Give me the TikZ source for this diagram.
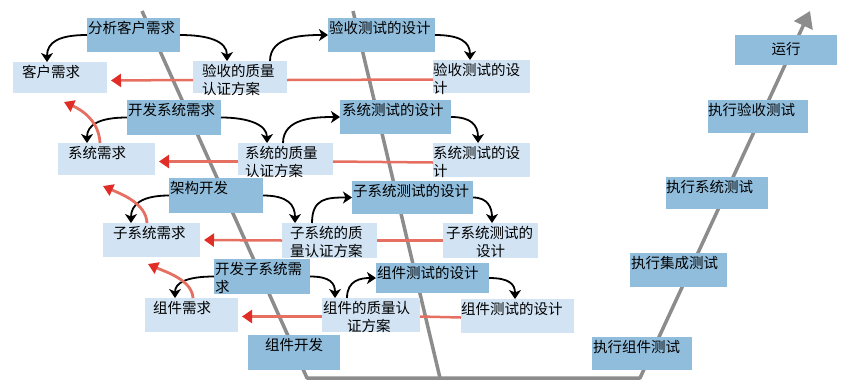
\documentclass[tikz,border=0pt]{standalone}
\usepackage{fontspec}
\setmainfont{Noto Sans CJK SC}
\usetikzlibrary{arrows.meta,calc}
\pgfdeclarelayer{bg}
\pgfsetlayers{bg,main}
\definecolor{dkblue}{RGB}{145,189,220}
\definecolor{ltblue}{RGB}{210,228,244}
\definecolor{vgray}{RGB}{140,140,140}
\definecolor{redln}{RGB}{229,112,98}
\definecolor{redtip}{RGB}{224,45,40}
\newcommand\bt[4]{\parbox[t][#2pt][t]{#1pt}{\fontsize{14.5}{18.5}\selectfont\raggedright\leftskip=#3pt\relax\rule{0pt}{15pt}#4}}
\tikzset{
  box/.style={anchor=north west, inner sep=0pt, outer sep=0pt},
  dk/.style={box, fill=dkblue},
  lt/.style={box, fill=ltblue},
  blk/.style={line width=1.8pt, black, -{Stealth[length=9pt,width=12pt,inset=2.5pt]}},
  rl/.style={line width=2.5pt, redln},
  ra/.style={rl, -{Triangle[length=10pt,width=13pt,color=redtip]}, shorten >=4pt},
  rc/.style={line width=2.8pt, redln, -{Triangle[length=10pt,width=12pt,color=redtip]}},
  vline/.style={line width=3.5pt, vgray, line join=round},
}
\begin{document}
\begin{tikzpicture}[x=1pt,y=-1pt]
\useasboundingbox (0,0) rectangle (845,381);
% gray V lines
\begin{pgfonlayer}{bg}
\coordinate (g1) at (142,11);
\coordinate (g2) at (307,378);
\coordinate (g3) at (640,378);
\coordinate (g4) at (810,11);
\coordinate (h1) at (353,11);
\coordinate (h2) at (440,378);
\draw[vline, -{Triangle[length=16pt,width=20pt]}] (g1) -- (g2) -- (g3) -- (g4);
\draw[vline] (h1) -- (h2);
\end{pgfonlayer}
% dark boxes (left)
\node[dk] (A1) at (87,18) {\bt{93}{34}{1}{分析客户需求}};
\node[dk] (A2) at (328,18) {\bt{107}{34}{1}{验收测试的设计}};
\node[dk] (A3) at (127,100) {\bt{94}{35}{1}{开发系统需求}};
\node[dk] (A4) at (340,100) {\bt{111}{34}{2}{系统测试的设计}};
\node[dk] (A5) at (169,178) {\bt{94}{35}{1}{架构开发}};
\node[dk] (A6) at (352,181) {\bt{121}{33}{1}{子系统测试的设计}};
\node[dk] (A7) at (214,259) {\bt{96}{35}{1}{开发子系统需\\求}};
\node[dk] (A8) at (376,263) {\bt{113}{30}{1}{组件测试的设计}};
\node[dk] (A9) at (248,335) {\bt{92}{35}{0}{\centering 组件开发}};
% dark boxes (right)
\node[dk] (E1) at (735,35) {\bt{102}{30}{0}{\centering\rule{0pt}{19pt}运行}};
\node[dk] (E2) at (708,100) {\bt{100}{33}{0}{执行验收测试}};
\node[dk] (E3) at (666,177) {\bt{102}{32}{0}{执行系统测试}};
\node[dk] (E4) at (630,253) {\bt{97}{34}{1}{执行集成测试}};
\node[dk] (E5) at (592,337) {\bt{100}{33}{1}{执行组件测试}};
% light boxes
\node[lt] (L1) at (13,62) {\bt{94}{31}{9}{客户需求}};
\node[lt] (L2) at (193,61) {\bt{94}{32}{9}{验收的质量\\认证方案}};
\node[lt] (L3) at (433,60) {\bt{97}{33}{0}{验收测试的设\\计}};
\node[lt] (L4) at (58,143) {\bt{97}{32}{10}{系统需求}};
\node[lt] (L5) at (238,143) {\bt{95}{32}{7}{系统的质量\\认证方案}};
\node[lt] (L6) at (433,143) {\bt{97}{34}{0}{系统测试的设\\计}};
\node[lt] (L7) at (103,223) {\bt{97}{34}{10}{子系统需求}};
\node[lt] (L8) at (282,223) {\bt{95}{35}{8}{子系统的质\\量认证方案}};
\node[lt] (L9) at (443,223) {\bt{95}{35}{3}{子系统测试的\\\hspace*{30pt}设计}};
\node[lt] (L10) at (145,298) {\bt{93}{34}{8}{组件需求}};
\node[lt] (L11) at (322,298) {\bt{98}{34}{1}{组件的质量认\\\hspace*{24pt}证方案}};
\node[lt] (L12) at (461,299) {\bt{113}{34}{0}{组件测试的设计}};
% red horizontal lines
\draw[rl] ([yshift=-3pt]L3.west) -- ([yshift=-3pt]L2.east);
\draw[ra] ([yshift=-3pt]L2.west) -- ([yshift=-3pt]L1.east);
\draw[rl] ([yshift=-2.5pt]L6.west) -- ([yshift=-2.5pt]L5.east);
\draw[ra] ([yshift=-2.5pt]L5.west) -- ([yshift=-2.5pt]L4.east);
\draw[rl] (L9.west) -- (L8.east);
\draw[ra] (L8.west) -- (L7.east);
\draw[rl] ([yshift=-1.5pt]L12.west) -- ([yshift=-1.5pt]L11.east);
\draw[ra] ([yshift=-1.5pt]L11.west) -- ([yshift=-1.5pt]L10.east);
% black curved arrows
\draw[blk] (A1.west) .. controls +(-28,0) and +(0,-20) .. ($(L1.north west)+(34,0)$);
\draw[blk] (A1.east) .. controls +(28,0) and +(0,-20) .. ($(L2.north west)+(34,0)$);
\draw[blk] ($(L2.north east)+(-17,0)$) .. controls +(0,-25) and +(-25,0) .. (A2.west);
\draw[blk] (A2.east) .. controls +(25,0) and +(0,-18) .. ($(L3.north west)+(37,0)$);
\draw[blk] (A3.west) .. controls +(-28,0) and +(0,-18) .. ($(L4.north west)+(29,0)$);
\draw[blk] (A3.east) .. controls +(28,0) and +(0,-18) .. ($(L5.north west)+(29,0)$);
\draw[blk] ($(L5.north west)+(45,0)$) .. controls +(0,-25) and +(-25,0) .. (A4.west);
\draw[blk] (A4.east) .. controls +(20,0) and +(0,-18) .. ($(L6.north west)+(45,0)$);
\draw[blk] (A5.west) .. controls +(-28,0) and +(0,-18) .. ($(L7.north west)+(28,0)$);
\draw[blk] (A5.east) .. controls +(25,0) and +(0,-18) .. ($(L8.north west)+(13,0)$);
\draw[blk] ($(L8.north west)+(30,0)$) .. controls +(0,-25) and +(-25,0) .. (A6.west);
\draw[blk] (A6.east) .. controls +(15,0) and +(0,-15) .. ($(L9.north west)+(49,0)$);
\draw[blk] (A7.west) .. controls +(-28,0) and +(0,-15) .. ($(L10.north west)+(30,0)$);
\draw[blk] (A7.east) .. controls +(20,0) and +(0,-15) .. ($(L11.north west)+(13,0)$);
\draw[blk] ($(L11.north west)+(25,0)$) .. controls +(0,-18) and +(-15,0) .. (A8.west);
\draw[blk] (A8.east) .. controls +(20,0) and +(0,-15) .. ($(L12.north west)+(54,0)$);
% red curved arrows
\draw[rc] ($(L4.north west)+(42,0)$) .. controls +(-1,-22) and +(18,8) .. ($(L1.south west)+(51,9)$);
\draw[rc] ($(L7.north west)+(44,0)$) .. controls +(-1,-20) and +(18,8) .. ($(L4.south west)+(45,11)$);
\draw[rc] ($(L10.north west)+(48,0)$) .. controls +(-1,-18) and +(18,8) .. ($(L7.south west)+(45,7)$);
\end{tikzpicture}
\end{document}
